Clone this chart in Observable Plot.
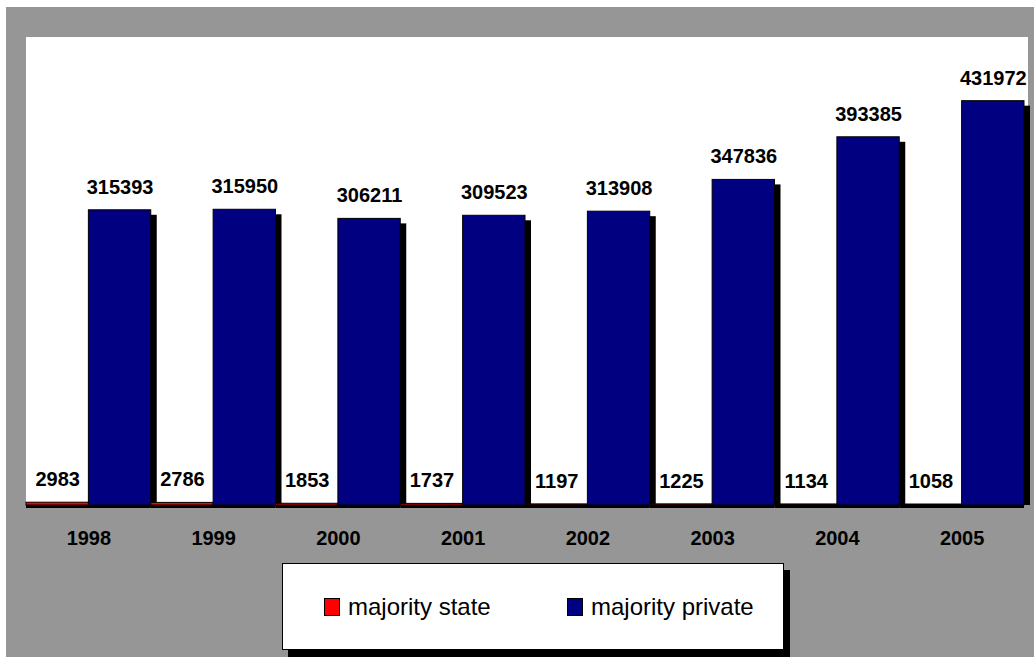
<!DOCTYPE html>
<html>
<head>
<meta charset="utf-8">
<script src="https://cdn.jsdelivr.net/npm/d3@7"></script>
<script src="https://cdn.jsdelivr.net/npm/@observablehq/plot@0.6"></script>
<style>
  html, body { margin: 0; padding: 0; background: #ffffff; overflow: hidden; width: 1034px; height: 657px; }
  #bg { position: absolute; left: 6px; top: 7px; width: 1028px; height: 650px; background: #969696; }
  #plotarea { position: absolute; left: 26px; top: 37px; width: 1002px; height: 468px; background: #ffffff; }
  #chart { position: absolute; left: 0; top: 0; }
  #legend { position: absolute; left: 282px; top: 563px; width: 500px; height: 85px; background: #fff;
            border: 1px solid #000; box-shadow: 6px 7px 0 #000; font-family: "Liberation Sans", Arial, sans-serif; font-size: 24px; }
  .item { position: absolute; top: 0; height: 85px; display: flex; align-items: center; }
  .sw { width: 14px; height: 16px; border: 1px solid #000; margin-right: 8px; }
</style>
</head>
<body>
<div id="bg"></div>
<div id="plotarea"></div>
<div id="chart"></div>
<div id="legend"></div>
<script>
const years = ["1998", "1999", "2000", "2001", "2002", "2003", "2004", "2005"];
const seriesNames = ["majority state", "majority private"];
const stateValues = [2983, 2786, 1853, 1737, 1197, 1225, 1134, 1058];
const privateValues = [315393, 315950, 306211, 309523, 313908, 347836, 393385, 431972];
const colors = ["#ff0000", "#000080"];

const data = [];
years.forEach((y, i) => {
  data.push({year: y, series: seriesNames[0], value: stateValues[i]});
  data.push({year: y, series: seriesNames[1], value: privateValues[i]});
});

const font = "Liberation Sans, Arial, sans-serif";

const chart = Plot.plot({
  width: 1034,
  height: 657,
  marginLeft: 26,
  marginRight: 10,
  marginTop: 37,
  marginBottom: 152,
  style: {background: "transparent", fontFamily: font},
  fx: {domain: years, padding: 0, round: false, label: null},
  x: {domain: seriesNames, padding: 0, round: false, axis: null},
  y: {domain: [0, 500000], axis: null},
  color: {domain: seriesNames, range: colors},
  marks: [
    Plot.barY(data, {fx: "year", x: "series", y: "value", fill: "#000", dx: 6, dy: 5, insetBottom: 5}),
    Plot.barY(data, {fx: "year", x: "series", y: "value", fill: "series", stroke: "#000", strokeWidth: 1}),
    Plot.ruleY([0], {stroke: "#000", strokeWidth: 3, dy: 1}),
    Plot.text(data, {fx: "year", x: "series", y: "value", text: d => String(d.value), dy: -23,
      fontSize: 20, fontWeight: "bold", fill: "#000"}),
    Plot.axisFx({anchor: "bottom", tickSize: 0, tickPadding: 25, fontSize: 20, fontWeight: "bold", label: null, fill: "#000"})
  ]
});
document.getElementById("chart").appendChild(chart);

const legend = document.getElementById("legend");
const lefts = [41, 284];
seriesNames.forEach((name, i) => {
  const it = document.createElement("div");
  it.className = "item";
  it.style.left = lefts[i] + "px";
  const sw = document.createElement("div");
  sw.className = "sw";
  sw.style.background = colors[i];
  const tx = document.createElement("span");
  tx.textContent = name;
  it.appendChild(sw);
  it.appendChild(tx);
  legend.appendChild(it);
});
</script>
</body>
</html>
